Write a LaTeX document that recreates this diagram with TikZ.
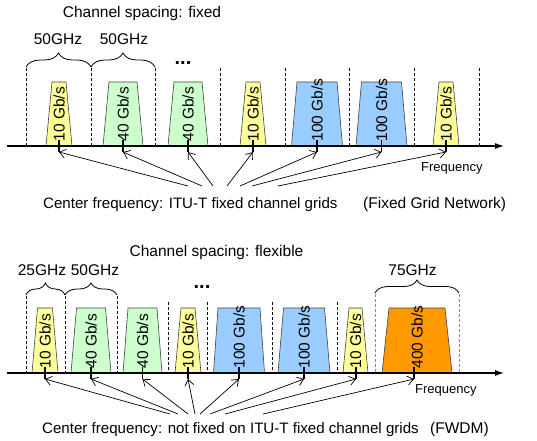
\documentclass[tikz,border=0pt]{standalone}
\usepackage{fontspec}
\setmainfont{Liberation Sans}
\usetikzlibrary{arrows.meta,decorations.pathreplacing}

\definecolor{chA}{HTML}{FFFF99}
\definecolor{chB}{HTML}{CCFFCC}
\definecolor{chC}{HTML}{99CCFF}
\definecolor{chD}{HTML}{FF9900}

\tikzset{
  lbl/.style={font=\fontsize{15.5}{18}\selectfont, inner sep=0pt},
  notelbl/.style={font=\fontsize{15.1}{18}\selectfont, inner sep=0pt},
  smalllbl/.style={font=\fontsize{13}{15}\selectfont, inner sep=0pt},
  rate/.style={font=\fontsize{15.5}{18}\selectfont, inner sep=0pt, rotate=90, anchor=west},
  chanbox/.style={draw=black!75, line width=0.6pt},
  gridline/.style={dash pattern=on 2.5pt off 2.5pt, line width=0.7pt},
  graygrid/.style={gridline, draw=black!45},
  freqaxis/.style={line width=1.1pt, -{Latex[length=9pt,width=6pt]}},
  tickmark/.style={line width=1.1pt},
  pointer/.style={line width=0.7pt, -{Straight Barb[length=6pt,width=9pt]}},
  curly/.style={decorate, decoration={brace, amplitude=#1}, line width=0.8pt},
  dots/.style={font=\fontsize{20}{22}\selectfont\bfseries, inner sep=0pt},
}

% channel: name, centre x, base y, top y, bottom half width, top half width, fill, rate text
\newcommand\chanshape[8]{%
  \draw[chanbox, fill=#7] ({#2-#5},#3) -- ({#2-#6},#4) -- ({#2+#6},#4) -- ({#2+#5},#3) -- cycle;
  \node[rate] (#1) at (#2,{#3-4.5}) {#8};
}
% tick on the axis at the channel centre: name, x, axis y
\newcommand\chantick[3]{%
  \draw[tickmark] (#2,{#3-6}) -- (#2,{#3+6});
  \coordinate (#1) at (#2,{#3+6});
}

\begin{document}
\begin{tikzpicture}[x=1pt,y=-1pt]
\useasboundingbox (0,0) rectangle (537,440);

% ===================== fixed grid =====================
\node[lbl, anchor=base] (ttlA) at (142,17.5) {Channel spacing: fixed};
\node[lbl, anchor=base] (spA1) at (58,44) {50GHz};
\node[lbl, anchor=base] (spA2) at (124,44) {50GHz};
\node[dots, anchor=base] (dotsA) at (183,64) {...};

\foreach \gx in {26,91,155} \draw[gridline] (\gx,68) -- (\gx,146);
\foreach \gx in {220,285,349,414,479} \draw[gridline] (\gx,68) -- (\gx,146);
\draw[curly=14pt] (26,67) -- (91,67);
\draw[curly=14pt] (91,67) -- (155,67);

\chanshape{rA1}{59}{146}{82}{13}{7}{chA}{10 Gb/s}
\chanshape{rA2}{123}{146}{82}{20}{14}{chB}{40 Gb/s}
\chanshape{rA3}{188}{146}{82}{20}{14}{chB}{40 Gb/s}
\chanshape{rA4}{253}{146}{82}{13}{7}{chA}{10 Gb/s}
\chanshape{rA5}{317}{146}{82}{25.5}{20}{chC}{100 Gb/s}
\chanshape{rA6}{381.5}{146}{82}{25.5}{20}{chC}{100 Gb/s}
\chanshape{rA7}{446}{146}{82}{13}{7}{chA}{10 Gb/s}

\coordinate (axA0) at (7,146);
\coordinate (axA1) at (504,146);
\draw[freqaxis] (axA0) -- (axA1);

\chantick{tA1}{59}{146}
\chantick{tA2}{123}{146}
\chantick{tA3}{188}{146}
\chantick{tA4}{253}{146}
\chantick{tA5}{317}{146}
\chantick{tA6}{381.5}{146}
\chantick{tA7}{446}{146}

\node[smalllbl, anchor=base west] (fqA) at (421,171) {Frequency};

\coordinate (sA1) at (188,186);
\coordinate (sA2) at (202,186);
\coordinate (sA3) at (213,186);
\coordinate (sA4) at (227,186);
\coordinate (sA5) at (240,186);
\coordinate (sA6) at (252,186);
\coordinate (sA7) at (278,186);
\foreach \i in {1,...,7} \draw[pointer] (sA\i) -- (tA\i);

\node[notelbl, anchor=base west] (cfA) at (43,208) {Center frequency: ITU-T fixed channel grids};
\node[lbl, anchor=base west] (nwA) at (363,208) {(Fixed Grid Network)};

% ===================== flexible grid =====================
\node[lbl, anchor=base] (ttlB) at (216.5,256) {Channel spacing: flexible};
\node[lbl, anchor=base] (spB1) at (42,275) {25GHz};
\node[lbl, anchor=base] (spB2) at (95,275) {50GHz};
\node[lbl, anchor=base] (spB3) at (412.5,275) {75GHz};
\node[dots, anchor=base] (dotsB) at (202,288) {...};

\foreach \gx in {26,65,117} \draw[gridline] (\gx,296) -- (\gx,373);
\foreach \gx in {168,207,272,337} \draw[gridline] (\gx,302) -- (\gx,373);
\foreach \gx in {375,459} \draw[graygrid] (\gx,294) -- (\gx,373);
\draw[curly=12pt] (26,295) -- (65,295);
\draw[curly=12pt] (65,295) -- (117,295);
\draw[curly=13pt] (375,293) -- (459,293);

\chanshape{rB1}{45}{373}{308}{13}{7.5}{chA}{10 Gb/s}
\chanshape{rB2}{91}{373}{308}{20}{14.5}{chB}{40 Gb/s}
\chanshape{rB3}{142.5}{373}{308}{19.5}{14.5}{chB}{40 Gb/s}
\chanshape{rB4}{188}{373}{308}{13}{7}{chA}{10 Gb/s}
\chanshape{rB5}{239}{373}{308}{25.5}{21}{chC}{100 Gb/s}
\chanshape{rB6}{304}{373}{308}{26}{20.5}{chC}{100 Gb/s}
\chanshape{rB7}{355.5}{373}{308}{12.5}{6.5}{chA}{10 Gb/s}
\chanshape{rB8}{417}{373}{308}{35}{28}{chD}{400 Gb/s}

\coordinate (axB0) at (7,373);
\coordinate (axB1) at (504,373);
\draw[freqaxis] (axB0) -- (axB1);

\chantick{tB1}{45}{373}
\chantick{tB2}{91}{373}
\chantick{tB3}{142.5}{373}
\chantick{tB4}{188}{373}
\chantick{tB5}{239}{373}
\chantick{tB6}{304}{373}
\chantick{tB7}{356}{373}
\chantick{tB8}{414}{373}

\node[smalllbl, anchor=base west] (fqB) at (415,393) {Frequency};

\coordinate (sB1) at (170,414);
\coordinate (sB2) at (178,414);
\coordinate (sB3) at (188,414);
\coordinate (sB4) at (195,414);
\coordinate (sB5) at (200,414);
\coordinate (sB6) at (210,414);
\coordinate (sB7) at (225,414);
\coordinate (sB8) at (263,414);
\foreach \i in {1,...,8} \draw[pointer] (sB\i) -- (tB\i);

\node[notelbl, anchor=base west] (cfB) at (42,433.5) {Center frequency: not fixed on ITU-T fixed channel grids};
\node[lbl, anchor=base west] (nwB) at (430,433.5) {(FWDM)};

\end{tikzpicture}
\end{document}
